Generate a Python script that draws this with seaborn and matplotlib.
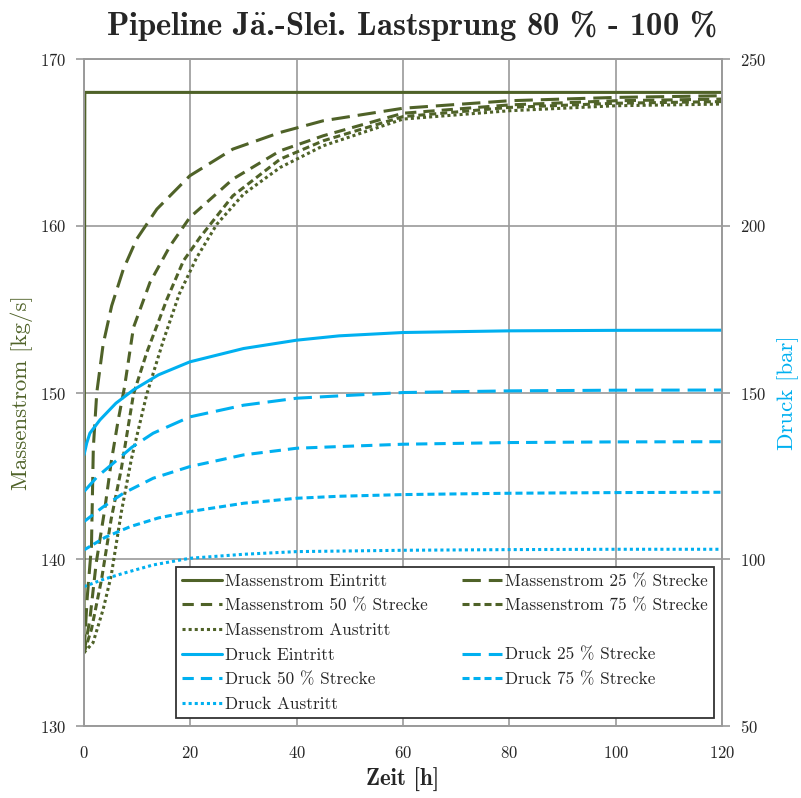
import numpy as np
import pandas as pd
import seaborn as sns
import matplotlib.pyplot as plt
from matplotlib.lines import Line2D

sns.set_style("white")
plt.rcParams['font.family'] = ['cmr10', 'DejaVu Serif']
plt.rcParams['mathtext.fontset'] = 'cm'
plt.rcParams['axes.formatter.use_mathtext'] = True

# Farben
gruen = "#4F6228"
blau = "#00B0F0"
grau = "#9A9A9A"

# Massenstrom [kg/s] (linke Achse)
m_ein_t = [0, 0.15, 120]
m_ein = [134.4, 168.0, 168.0]

m25_t = [0, 0.6, 1.4, 1.75, 2.4, 3.6, 5.2, 7.4, 9.9, 13.7, 19.9, 28, 36.9, 45, 60, 80, 100, 120]
m25 = [134.4, 137.7, 140.8, 146.7, 150.0, 152.9, 155.2, 157.4, 159.2, 161.0, 163.0, 164.6, 165.6, 166.3, 167.05, 167.5, 167.7, 167.8]

m50_t = [0, 1.1, 2.3, 3.9, 5.1, 6.4, 7.6, 9.3, 12.4, 16.2, 19.9, 28, 36.9, 45, 60, 80, 100, 120]
m50 = [134.4, 136.4, 139.8, 143.0, 145.8, 148.3, 150.3, 153.9, 156.6, 158.8, 160.5, 162.8, 164.5, 165.4, 166.75, 167.25, 167.5, 167.6]

m75_t = [0, 1.4, 3.3, 5.1, 7.0, 9.3, 11.8, 15.6, 18.7, 21.8, 28, 36.9, 45, 60, 80, 100, 120]
m75 = [134.4, 135.8, 138.8, 142.4, 145.4, 149.9, 152.4, 155.6, 157.9, 159.3, 161.8, 164.0, 165.1, 166.55, 167.1, 167.35, 167.45]

m_aus_t = [0, 1.7, 3.6, 5.1, 7.0, 8.9, 11.8, 14.9, 17.9, 21.2, 25, 30, 36.9, 45, 60, 80, 100, 120]
m_aus = [134.4, 135.0, 137.0, 139.0, 142.8, 146.0, 149.9, 153.1, 155.9, 158.1, 160.1, 161.9, 163.5, 164.8, 166.4, 166.9, 167.2, 167.3]

# Druck [bar] (rechte Achse)
d_ein_t = [0, 0.5, 1.1, 3.0, 6.0, 9.3, 14, 19.9, 30, 40, 48, 60, 80, 100, 120]
d_ein = [131.3, 134.8, 137.8, 141.8, 146.8, 150.8, 155.3, 159.2, 163.2, 165.7, 167.0, 168.0, 168.5, 168.65, 168.7]

d25_t = [0, 2.5, 5.5, 9, 13.0, 19.9, 30, 40, 48, 60, 80, 100, 120]
d25 = [120.3, 124.8, 128.8, 133.6, 137.8, 142.7, 146.2, 148.3, 149.0, 150.0, 150.5, 150.7, 150.75]

d50_t = [0, 3.5, 7.4, 13, 19.9, 30, 40, 48, 60, 80, 100, 120]
d50 = [111.3, 115.6, 119.8, 124.3, 127.8, 131.3, 133.3, 133.8, 134.5, 135.0, 135.2, 135.25]

d75_t = [0, 4, 8.7, 14, 19.9, 30, 40, 48, 60, 80, 100, 120]
d75 = [102.8, 106.6, 109.8, 112.4, 114.3, 116.8, 118.3, 118.9, 119.4, 119.8, 120.0, 120.1]

d_aus_t = [0, 3.5, 7.4, 13, 19.9, 30, 40, 60, 80, 100, 120]
d_aus = [91.8, 93.9, 95.8, 98.3, 100.3, 101.5, 102.3, 102.7, 102.9, 103.0, 103.0]

fig = plt.figure(figsize=(8.01, 7.98), dpi=100)
ax = fig.add_axes([0.1049, 0.0902, 0.7965, 0.8358])
ax2 = ax.twinx()

lw = 2.2
stile = {
    "solid": "-",
    "lang": (0, (6, 2.6)),
    "mittel": (0, (3.7, 2.3)),
    "kurz": (0, (2.3, 1.3)),
    "punkt": (0, (1, 1)),
}

h = {}
for name, t, y, st in [
    ("Massenstrom Eintritt", m_ein_t, m_ein, "solid"),
    ("Massenstrom 25 % Strecke", m25_t, m25, "lang"),
    ("Massenstrom 50 % Strecke", m50_t, m50, "mittel"),
    ("Massenstrom 75 % Strecke", m75_t, m75, "kurz"),
    ("Massenstrom Austritt", m_aus_t, m_aus, "punkt"),
]:
    sns.lineplot(x=t, y=y, ax=ax, color=gruen, linewidth=lw, linestyle=stile[st])
    h[name] = ax.get_lines()[-1]

for name, t, y, st in [
    ("Druck Eintritt", d_ein_t, d_ein, "solid"),
    ("Druck 25 % Strecke", d25_t, d25, "lang"),
    ("Druck 50 % Strecke", d50_t, d50, "mittel"),
    ("Druck 75 % Strecke", d75_t, d75, "kurz"),
    ("Druck Austritt", d_aus_t, d_aus, "punkt"),
]:
    sns.lineplot(x=t, y=y, ax=ax2, color=blau, linewidth=lw, linestyle=stile[st])
    h[name] = ax2.get_lines()[-1]

ax.set_xlim(0, 120)
ax.set_ylim(130, 170)
ax2.set_ylim(50, 250)
ax.set_xticks(np.arange(0, 121, 20))
ax.set_yticks(np.arange(130, 171, 10))
ax2.set_yticks(np.arange(50, 251, 50))

ax.grid(True, color=grau, linewidth=1.2)
ax2.grid(False)
for a in (ax, ax2):
    for s in a.spines.values():
        s.set_color(grau)
        s.set_linewidth(1.2)
    a.tick_params(axis="both", direction="out", length=6, width=1.2, color=grau,
                  labelsize=12, pad=7)
ax.tick_params(axis="x", pad=8)

ax.set_xlabel("Zeit [h]", fontsize=16.5, fontfamily=['cmb10', 'DejaVu Serif'], labelpad=5)
ax.set_ylabel("Massenstrom [kg/s]", fontsize=16.5, color=gruen, labelpad=5)
ax2.set_ylabel("Druck [bar]", fontsize=16.5, color=blau, labelpad=8)
fig.suptitle(r"Pipeline J$\ddot{\mathbf{a}}$.-Slei. Lastsprung 80 % - 100 %", fontsize=23.5,
             fontfamily=['cmb10', 'DejaVu Serif'], x=0.514, y=0.99)

leer = Line2D([], [], linestyle="none")
reihe = ["Massenstrom Eintritt", "Massenstrom 50 % Strecke", "Massenstrom Austritt",
         "Druck Eintritt", "Druck 50 % Strecke", "Druck Austritt",
         "Massenstrom 25 % Strecke", "Massenstrom 75 % Strecke", None,
         "Druck 25 % Strecke", "Druck 75 % Strecke", None]
handles = [h[n] if n else leer for n in reihe]
labels = [n if n else "" for n in reihe]
leg = ax2.legend(handles, labels, ncol=2, loc="lower right", bbox_to_anchor=(0.9875, 0.012),
                 borderaxespad=0, fontsize=12.4, frameon=True, fancybox=False, framealpha=1,
                 edgecolor="#333333", handlelength=2.3, handletextpad=0.2,
                 columnspacing=2.0, labelspacing=0.54, borderpad=0.35)
leg.get_frame().set_linewidth(1.3)

fig.savefig("out.png", dpi=100)
